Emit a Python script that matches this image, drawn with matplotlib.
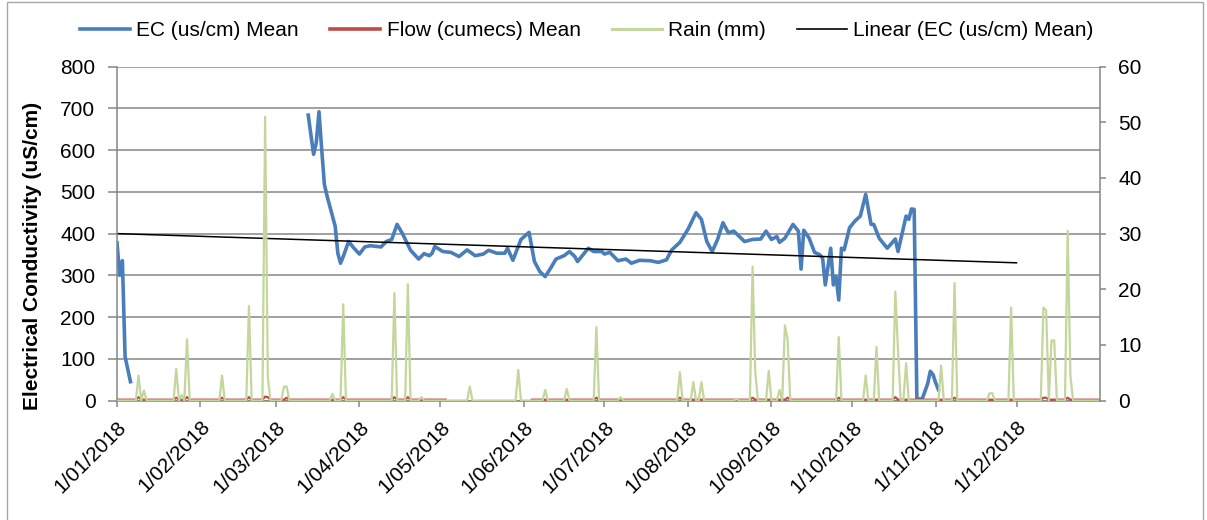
import numpy as np
import matplotlib
matplotlib.use('Agg')
import matplotlib.pyplot as plt
from matplotlib.patches import Rectangle
from matplotlib.lines import Line2D

plt.rcParams['font.family'] = ['Liberation Sans', 'DejaVu Sans']

# ---- data ----
start = np.datetime64('2018-01-01')

# EC mean, day of year (0 = 1 Jan) and value; nan breaks the line
ec_days = [0, 1, 2, 3, 4, 5, 6,
           71, 73, 74, 75, 76, 77, 78, 80, 81, 82, 83, 84, 86, 88, 90, 92, 94, 98,
           100, 102, 104, 106, 109, 110, 112, 114, 116, 117, 118, 121, 124, 127, 130,
           133, 136, 138, 141, 144, 145, 147, 150, 153, 155, 157, 159, 161, 163, 166,
           168, 170, 171, 175, 177, 180, 181, 183, 186, 189, 191, 194, 198, 201, 204,
           206, 209, 212, 215, 217, 219, 221, 223, 225, 227, 229, 233, 236, 239, 241,
           243, 245, 246, 248, 251, 252, 253, 254, 255, 257, 259, 261, 262, 263, 265,
           266, 267, 268, 269, 270, 272, 274, 276, 278, 280, 281, 283, 286, 289, 290,
           293, 294, 295, 296, 297, 299, 301, 302, 303, 304, 305]
ec_vals = [378, 300, 335, 105, 75, 45, np.nan,
           684, 590, 618, 692, 602, 518, 490, 442, 418, 353, 329, 345, 381, 365, 351, 368, 371, 368,
           381, 386, 422, 400, 360, 353, 339, 352, 347, 353, 369, 357, 355, 345, 361,
           347, 351, 360, 353, 353, 365, 336, 386, 403, 333, 309, 297, 317, 339, 347,
           357, 345, 333, 365, 357, 357, 351, 355, 335, 339, 329, 336, 335, 331, 337,
           361, 379, 410, 450, 434, 381, 357, 386, 426, 402, 406, 381, 386, 387, 406,
           386, 393, 379, 389, 422, 414, 406, 315, 408, 389, 355, 349, 341, 277, 365,
           277, 297, 241, 365, 361, 414, 430, 442, 494, 422, 422, 389, 365, 387, 357,
           442, 434, 459, 458, 4, 4, 40, 70, 62, 42, 26]

# rain (mm) events, every other day is 0
rain_days = [8, 10, 22, 24, 26, 39, 49, 55, 56, 62, 63, 80, 84, 103, 108, 113,
             131, 149, 159, 167, 178, 187, 209, 214, 217, 230, 236, 237, 242, 246,
             248, 249, 268, 278, 282, 289, 290, 293, 306, 311, 324, 325, 332, 344,
             345, 347, 348, 353, 354]
rain_vals = [4.5, 1.8, 5.7, 1.0, 11.0, 4.5, 17.0, 51.0, 4.2, 2.5, 2.5, 1.2, 17.3, 19.3, 20.9, 0.6,
             2.5, 5.5, 1.9, 2.1, 13.2, 0.6, 5.1, 3.3, 3.3, 0.3, 24.1, 5.0, 5.3, 1.9,
             13.5, 11.0, 11.4, 4.5, 9.6, 19.6, 9.0, 6.7, 6.3, 21.1, 1.3, 1.3, 16.7, 16.7,
             16.2, 10.8, 10.8, 30.5, 4.5]
n_days = 366

# flow (cumecs) mean: small base flow with bumps, missing for a stretch in May
flow_base = 0.15
flow_days = [8, 22, 26, 39, 49, 55, 56, 63, 84, 103, 108, 178, 209, 236, 249, 268,
             289, 311, 344, 345, 353]
flow_vals = [0.6, 0.5, 0.6, 0.5, 0.6, 0.7, 0.6, 0.5, 0.6, 0.6, 0.6, 0.5, 0.5, 0.5,
             0.5, 0.5, 0.6, 0.5, 0.5, 0.5, 0.5]
flow_gap = (123, 154)

# linear trend of EC
trend_days = [0, 334]
trend_vals = [400, 330]

month_labels = ['1/01/2018', '1/02/2018', '1/03/2018', '1/04/2018', '1/05/2018',
                '1/06/2018', '1/07/2018', '1/08/2018', '1/09/2018', '1/10/2018',
                '1/11/2018', '1/12/2018']
month_ticks = np.arange('2018-01', '2019-01', dtype='datetime64[M]').astype('datetime64[D]')

# ---- build series ----
ec_x = start + np.array(ec_days, dtype='timedelta64[D]')
all_x = start + np.arange(n_days).astype('timedelta64[D]')
rain = np.zeros(n_days)
rain[rain_days] = rain_vals
flow = np.full(n_days, flow_base)
flow[flow_days] = flow_vals
flow[flow_gap[0]:flow_gap[1]] = np.nan
trend_x = start + np.array(trend_days, dtype='timedelta64[D]')

grey = '#868686'
c_ec, c_fl, c_rn = '#4A7EBB', '#BE4B48', '#C3D69B'
W, H = 1207, 520
fig = plt.figure(figsize=(W / 100, H / 100), dpi=100)
fig.patches.append(Rectangle((7 / W, -0.02), 1196 / W, 1.016, transform=fig.transFigure,
                             fill=False, edgecolor='#a6a6a6', lw=1))

ax = fig.add_axes([117 / W, 1 - 400.5 / H, (1100 - 117) / W, (400.5 - 66.7) / H])
ax.plot(ec_x, ec_vals, color=c_ec, lw=2.6, solid_joinstyle='round')
ax.plot(trend_x, trend_vals, color='black', lw=1.1)
ax.set_ylim(0, 800)
ax.set_yticks(range(0, 801, 100))
ax.set_xlim(start, start + np.timedelta64(365, 'D'))
ax.set_xticks(month_ticks)
ax.set_xticklabels(month_labels, rotation=45, ha='right', rotation_mode='anchor', fontsize=15)
ax.grid(axis='y', color=grey, lw=1.1)
ax.set_axisbelow(True)
for s in ['top', 'right']:
    ax.spines[s].set_visible(False)
for s in ['left', 'bottom']:
    ax.spines[s].set_color(grey)
    ax.spines[s].set_linewidth(1.1)
ax.tick_params(axis='y', color=grey, length=6.5, width=1.1, pad=9, labelsize=15)
ax.tick_params(axis='x', color=grey, length=4, width=1.1, pad=8)

ax2 = ax.twinx()
ax2.plot(all_x, flow, color=c_fl, lw=1.6)
ax2.plot(all_x, rain, color=c_rn, lw=1.6)
ax2.set_ylim(0, 60)
ax2.set_yticks(range(0, 61, 10))
for s in ['top', 'left', 'bottom']:
    ax2.spines[s].set_visible(False)
ax2.spines['right'].set_color(grey)
ax2.spines['right'].set_linewidth(1.1)
ax2.tick_params(axis='y', color=grey, length=4, width=1.1, pad=9, labelsize=15)

fig.text(33 / W, 1 - 256 / H, 'Electrical Conductivity (uS/cm)', rotation=90,
         ha='center', va='center', fontsize=15, fontweight='bold')

handles = [Line2D([], [], color=c_ec, lw=2.6), Line2D([], [], color=c_fl, lw=2.6),
           Line2D([], [], color=c_rn, lw=2.2), Line2D([], [], color='black', lw=1.2)]
fig.legend(handles,
           ['EC (us/cm) Mean', 'Flow (cumecs) Mean', 'Rain (mm)', 'Linear (EC (us/cm) Mean)'],
           loc='center', bbox_to_anchor=(587 / W, 1 - 31 / H), ncol=4, frameon=False,
           handlelength=2.4, handletextpad=0.3, columnspacing=1.5, fontsize=15)

fig.savefig('out.png', dpi=100)
